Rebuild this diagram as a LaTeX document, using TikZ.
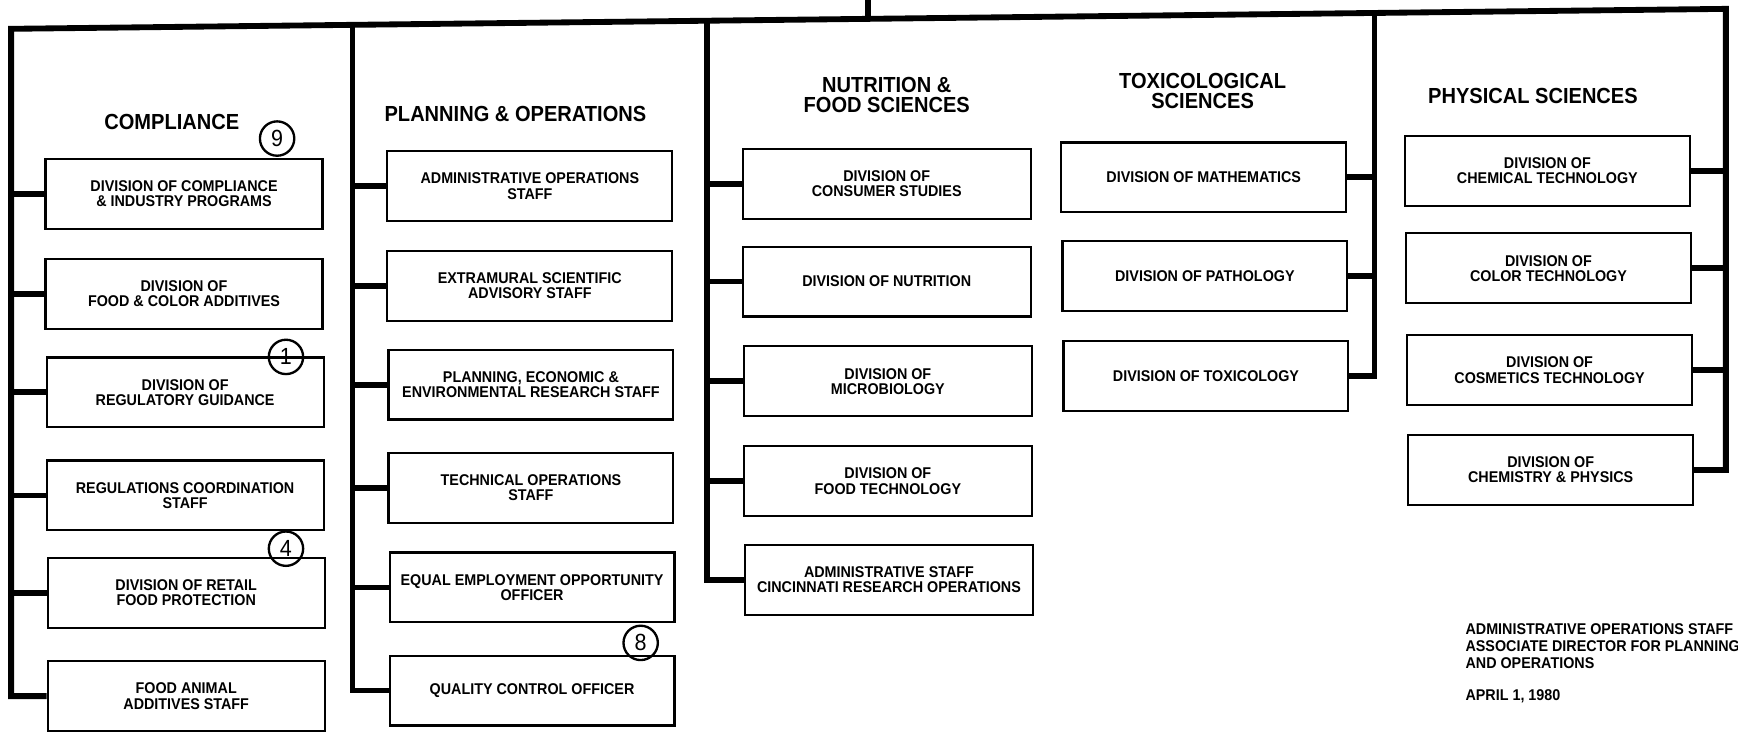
\documentclass[tikz,border=0pt]{standalone}
\usepackage{fontspec}
\setmainfont{Liberation Sans}[FakeStretch=0.92]
\begin{document}
\begin{tikzpicture}[x=0.02cm,y=-0.02cm,
    unit/.style={draw,line width=1.1pt,minimum height=1.26cm,align=center,inner xsep=2pt,font=\bfseries\fontsize{8}{7.8}\selectfont},
    cmpbox/.style={unit,minimum width=5cm}, plnbox/.style={unit,minimum width=5.14cm},
    nutbox/.style={unit,minimum width=5.2cm}, scibox/.style={unit,minimum width=5.14cm},
    head/.style={align=center,font=\bfseries\fontsize{11.2}{10.2}\selectfont},
    link/.style={line width=3pt},
    memo/.style={anchor=west,align=left,font=\bfseries\fontsize{8}{8.8}\selectfont},
    ring/.style={draw,circle,line width=1.2pt,minimum size=0.62cm,inner sep=0pt,font=\fontsize{12}{12}\selectfont}]
    \useasboundingbox (0,0) rectangle (1568,660);

    % column heads
    \node[head] (hcmp) at (155,110) {COMPLIANCE}; \node[head] (hpln) at (465,103) {PLANNING \& OPERATIONS};
    \node[head] (hnut) at (800,86) {NUTRITION \&\\FOOD SCIENCES}; \node[head] (htox) at (1085,82) {TOXICOLOGICAL\\SCIENCES};
    \node[head] (hphy) at (1383,87) {PHYSICAL SCIENCES};

    % compliance
    \node[cmpbox] (cmp1) at (166,175) {DIVISION OF COMPLIANCE\\\& INDUSTRY PROGRAMS}; \node[cmpbox] (cmp2) at (166,265) {DIVISION OF\\FOOD \& COLOR ADDITIVES};
    \node[cmpbox] (cmp3) at (167,354) {DIVISION OF\\REGULATORY GUIDANCE}; \node[cmpbox] (cmp4) at (167,447) {REGULATIONS COORDINATION\\STAFF};
    \node[cmpbox] (cmp5) at (168,535) {DIVISION OF RETAIL\\FOOD PROTECTION}; \node[cmpbox] (cmp6) at (168,628) {FOOD ANIMAL\\ADDITIVES STAFF};

    % planning & operations
    \node[plnbox] (pln1) at (478,168) {ADMINISTRATIVE OPERATIONS\\STAFF}; \node[plnbox] (pln2) at (478,258) {EXTRAMURAL SCIENTIFIC\\ADVISORY STAFF};
    \node[plnbox] (pln3) at (479,347) {PLANNING, ECONOMIC \&\\ENVIRONMENTAL RESEARCH STAFF}; \node[plnbox] (pln4) at (479,440) {TECHNICAL OPERATIONS\\STAFF};
    \node[plnbox] (pln5) at (480,530) {EQUAL EMPLOYMENT OPPORTUNITY\\OFFICER}; \node[plnbox] (pln6) at (480,623) {QUALITY CONTROL OFFICER};

    % nutrition & food sciences
    \node[nutbox] (nut1) at (800,166) {DIVISION OF\\CONSUMER STUDIES}; \node[nutbox] (nut2) at (800,254) {DIVISION OF NUTRITION};
    \node[nutbox] (nut3) at (801,344) {DIVISION OF\\MICROBIOLOGY}; \node[nutbox] (nut4) at (801,434) {DIVISION OF\\FOOD TECHNOLOGY};
    \node[nutbox] (nut5) at (802,523) {ADMINISTRATIVE STAFF\\CINCINNATI RESEARCH OPERATIONS};

    % toxicological sciences
    \node[scibox] (tox1) at (1086,160) {DIVISION OF MATHEMATICS}; \node[scibox] (tox2) at (1087,249) {DIVISION OF PATHOLOGY};
    \node[scibox] (tox3) at (1088,339) {DIVISION OF TOXICOLOGY};

    % physical sciences
    \node[scibox] (phy1) at (1396,154) {DIVISION OF\\CHEMICAL TECHNOLOGY}; \node[scibox] (phy2) at (1397,242) {DIVISION OF\\COLOR TECHNOLOGY};
    \node[scibox] (phy3) at (1398,334) {DIVISION OF\\COSMETICS TECHNOLOGY}; \node[scibox] (phy4) at (1399,424) {DIVISION OF\\CHEMISTRY \& PHYSICS};

    % main bar and column trunks
    \coordinate (barL) at (10,26); \coordinate (barR) at (1557,8); \coordinate (stem) at (783,17); \coordinate (up) at (783,0);
    \coordinate (trk2) at (318,22); \coordinate (trk3) at (638,19); \coordinate (trk4) at (1240,12);
    \draw[link] (cmp6.west) -| (barL) -- (barR) |- (phy4.east); \draw[link] (stem) -- (up);
    \draw[link] (trk2) |- (pln6.west); \draw[link] (trk3) |- (nut5.west); \draw[link] (trk4) |- (tox3.east);

    \draw[link] (cmp1.west) -- (cmp1.west -| barL); \draw[link] (cmp2.west) -- (cmp2.west -| barL); \draw[link] (cmp3.west) -- (cmp3.west -| barL);
    \draw[link] (cmp4.west) -- (cmp4.west -| barL); \draw[link] (cmp5.west) -- (cmp5.west -| barL);
    \draw[link] (pln1.west) -- (pln1.west -| trk2); \draw[link] (pln2.west) -- (pln2.west -| trk2); \draw[link] (pln3.west) -- (pln3.west -| trk2);
    \draw[link] (pln4.west) -- (pln4.west -| trk2); \draw[link] (pln5.west) -- (pln5.west -| trk2);
    \draw[link] (nut1.west) -- (nut1.west -| trk3); \draw[link] (nut2.west) -- (nut2.west -| trk3); \draw[link] (nut3.west) -- (nut3.west -| trk3);
    \draw[link] (nut4.west) -- (nut4.west -| trk3);
    \draw[link] (tox1.east) -- (tox1.east -| trk4); \draw[link] (tox2.east) -- (tox2.east -| trk4);
    \draw[link] (phy1.east) -- (phy1.east -| barR); \draw[link] (phy2.east) -- (phy2.east -| barR); \draw[link] (phy3.east) -- (phy3.east -| barR);

    % handwritten marks
    \node[ring] (r9) at (250,125) {9}; \node[ring] (r1) at (258,322) {1};
    \node[ring] (r4) at (258,495) {4}; \node[ring] (r8) at (578,580) {8};

    % note
    \node[memo] (memo) at (1316,583) {ADMINISTRATIVE OPERATIONS STAFF\\ASSOCIATE DIRECTOR FOR PLANNING\\AND OPERATIONS};
    \node[memo] (date) at (1316,628) {APRIL 1, 1980};
\end{tikzpicture}
\end{document}
